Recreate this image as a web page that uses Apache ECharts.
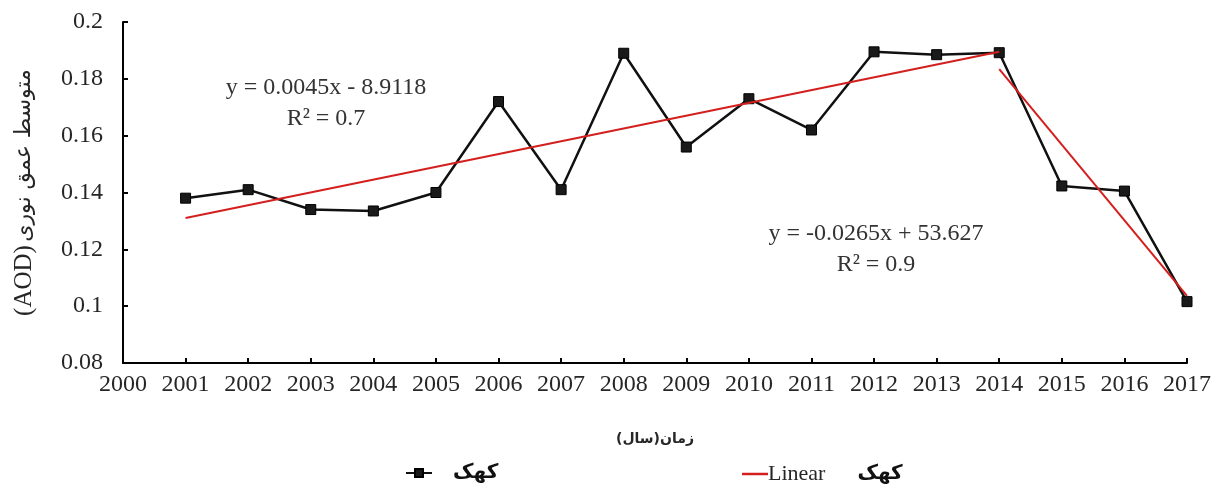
<!DOCTYPE html>
<html>
<head>
<meta charset="utf-8">
<script src="https://cdn.jsdelivr.net/npm/echarts@6/dist/echarts.min.js"></script>
<style>
  html, body { margin: 0; padding: 0; background: #fff; }
  #chart { width: 1219px; height: 498px; }
</style>
</head>
<body>
<div id="chart"></div>
<script>
// Years and mean aerosol optical depth for Kahak
const years = [2001, 2002, 2003, 2004, 2005, 2006, 2007, 2008, 2009, 2010, 2011, 2012, 2013, 2014, 2015, 2016, 2017];
const aod = [0.138, 0.141, 0.134, 0.1335, 0.140, 0.172, 0.141, 0.189, 0.156, 0.173, 0.162, 0.1895, 0.1885, 0.1892, 0.1423, 0.1405, 0.1016];

// Fitted trend segments: 2001–2014 and 2014–2017
const trendYearsA = [2001, 2014];
const trendValuesA = [0.131, 0.1895];
const trendYearsB = [2014, 2017];
const trendValuesB = [0.1834, 0.1036];

// Axis settings
const xMin = 2000, xMax = 2017, xStep = 1;
const yMin = 0.08, yMax = 0.2, yStep = 0.02;

// Regression captions
const eqA = ['y = 0.0045x - 8.9118', 'R² = 0.7'];
const eqB = ['y = -0.0265x + 53.627', 'R² = 0.9'];

const seriesName = 'کهک';
const trendName = 'Linear (کهک)';
const xTitle = 'زمان(سال)';
const yTitleLatin = '(AOD)';
const yTitleFa = 'متوسط عمق نوری';

const serif = '"Liberation Serif", "DejaVu Serif", serif';
const faFont = '"DejaVu Sans", "Noto Sans", sans-serif';
const ink = '#262626';
const red = '#d41f1f';

const pair = (xs, ys) => xs.map((x, i) => [x, ys[i]]);

const chart = echarts.init(document.getElementById('chart'), null, { renderer: 'canvas' });

chart.setOption({
  animation: false,
  backgroundColor: '#ffffff',
  grid: { left: 123, right: 32, top: 22, bottom: 135, containLabel: false },
  xAxis: {
    type: 'value',
    min: xMin, max: xMax, interval: xStep,
    axisLine: { show: true, lineStyle: { color: '#000', width: 2 } },
    axisTick: { show: true, inside: true, length: 5, lineStyle: { color: '#000', width: 2 } },
    splitLine: { show: false },
    axisLabel: { color: ink, fontFamily: serif, fontSize: 24, margin: 10, formatter: v => String(v) },
    name: xTitle,
    nameLocation: 'middle',
    nameGap: 69,
    nameTextStyle: { color: ink, fontFamily: faFont, fontSize: 14, fontWeight: 'bold' }
  },
  yAxis: {
    type: 'value',
    min: yMin, max: yMax, interval: yStep,
    axisLine: { show: true, lineStyle: { color: '#000', width: 2 } },
    axisTick: { show: true, inside: true, length: 5, lineStyle: { color: '#000', width: 2 } },
    splitLine: { show: false },
    axisLabel: { color: ink, fontFamily: serif, fontSize: 24, margin: 20 },
    name: '{lat|' + yTitleLatin + '} {fa|' + yTitleFa + '}',
    nameLocation: 'middle',
    nameGap: 86,
    nameRotate: 90,
    nameTextStyle: {
      rich: {
        lat: { color: ink, fontFamily: serif, fontSize: 25 },
        fa: { color: ink, fontFamily: faFont, fontSize: 22 }
      }
    }
  },
  legend: [
    {
      left: 400,
      top: 458,
      itemWidth: 26,
      itemHeight: 10,
      data: [seriesName],
      textStyle: {
        padding: [0, 0, 0, 16],
        color: '#111', fontFamily: faFont, fontSize: 20, fontWeight: 'bold'
      }
    },
    {
      left: 737,
      top: 458,
      icon: 'rect',
      itemWidth: 26,
      itemHeight: 2.5,
      data: [trendName],
      formatter: () => '{lin|Linear}{fa|کهک}',
      textStyle: {
        rich: {
          lin: { color: ink, fontFamily: serif, fontSize: 22, padding: [0, 32, 0, -5] },
          fa: { color: '#111', fontFamily: faFont, fontSize: 20, fontWeight: 'bold' }
        }
      }
    }
  ],
  series: [
    {
      name: seriesName,
      type: 'line',
      data: pair(years, aod),
      symbol: 'rect',
      symbolSize: 10,
      itemStyle: { color: '#1a1a1a', borderColor: '#000', borderWidth: 1 },
      lineStyle: { color: '#111', width: 2.5 },
      z: 2
    },
    {
      name: trendName,
      type: 'line',
      data: pair(trendYearsA, trendValuesA),
      symbol: 'none',
      lineStyle: { color: red, width: 2 },
      itemStyle: { color: red },
      z: 3
    },
    {
      name: trendName,
      type: 'line',
      data: pair(trendYearsB, trendValuesB),
      symbol: 'none',
      lineStyle: { color: red, width: 2 },
      itemStyle: { color: red },
      z: 3
    }
  ],
  graphic: [
    {
      type: 'text', x: 326, y: 72,
      style: { text: eqA.join('\n'), align: 'center', textAlign: 'center', fill: '#333', font: '24px ' + serif, lineHeight: 31 }
    },
    {
      type: 'text', x: 876, y: 218,
      style: { text: eqB.join('\n'), align: 'center', textAlign: 'center', fill: '#333', font: '24px ' + serif, lineHeight: 31 }
    }
  ]
});
</script>
</body>
</html>
